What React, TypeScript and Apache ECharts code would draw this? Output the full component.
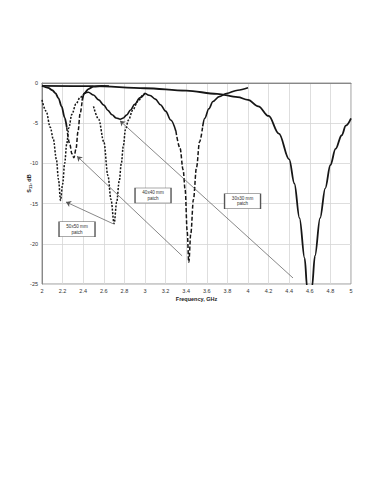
import React, { useEffect, useRef } from "react";
import * as echarts from "echarts";

// Solid curve: near-flat response with deep resonance at 4.6 GHz
const C6_F = [2.0, 2.5, 3.0, 3.4, 3.7, 3.9, 4.0, 4.1, 4.2, 4.3, 4.4, 4.45, 4.5, 4.55, 4.575, 4.597, 4.62, 4.65, 4.7, 4.75, 4.8, 4.85, 4.91, 4.95, 5.0];
const C6_D = [-0.35, -0.4, -0.65, -0.95, -1.35, -1.75, -2.1, -2.9, -4.1, -6.3, -9.5, -12.5, -16.8, -21.8, -25.5, -32, -25.5, -21.5, -16.8, -13.1, -10.2, -8.2, -6.5, -5.3, -4.4];

// Dashed-dip curve near 2.31 GHz (upper parts solid)
const C2A_F = [2.0, 2.06, 2.1, 2.13, 2.16, 2.19, 2.22, 2.24];
const C2A_D = [-0.35, -0.6, -0.9, -1.25, -1.9, -2.9, -4.3, -5.5];
const C2B_F = [2.24, 2.27, 2.29, 2.31, 2.33, 2.35, 2.37, 2.39];
const C2B_D = [-5.5, -7.6, -8.8, -9.3, -8.2, -6.0, -3.8, -2.2];
const C2C_F = [2.39, 2.41, 2.45, 2.5, 2.58, 2.65];
const C2C_D = [-2.2, -1.3, -0.75, -0.45, -0.36, -0.38];

// Dotted curve with dip at 2.18 GHz
const C1_F = [2.0, 2.04, 2.08, 2.11, 2.14, 2.16, 2.18, 2.2, 2.22, 2.24, 2.26, 2.29, 2.33, 2.37, 2.41];
const C1_D = [-2.1, -3.5, -5.5, -7.0, -9.5, -12.0, -14.6, -12.6, -10.0, -7.6, -5.6, -3.9, -2.6, -1.8, -1.3];

// Solid shallow resonance near 2.76 GHz
const C5_F = [2.41, 2.45, 2.5, 2.55, 2.6, 2.64, 2.68, 2.72, 2.76, 2.79, 2.82, 2.86, 2.9, 2.95, 3.0];
const C5_D = [-1.3, -1.15, -1.5, -2.1, -2.75, -3.4, -3.95, -4.35, -4.5, -4.35, -4.0, -3.35, -2.65, -1.85, -1.25];

// Dotted curve with dip at 2.70 GHz
const C3_F = [2.5, 2.55, 2.6, 2.64, 2.67, 2.7, 2.725, 2.75, 2.77, 2.79, 2.81, 2.84, 2.88, 2.93, 2.98, 3.0];
const C3_D = [-2.9, -4.5, -7.3, -11.5, -14.5, -17.5, -14.8, -12.2, -10.0, -7.8, -5.8, -4.6, -3.4, -2.3, -1.5, -1.3];

// Dashed-dip curve near 3.43 GHz (upper parts solid)
const C4A_F = [3.0, 3.05, 3.1, 3.15, 3.2, 3.25, 3.3];
const C4A_D = [-1.25, -1.55, -2.0, -2.7, -3.5, -4.6, -6.0];
const C4B_F = [3.3, 3.34, 3.37, 3.39, 3.41, 3.425, 3.445, 3.47, 3.5, 3.53, 3.56];
const C4B_D = [-6.0, -8.1, -10.8, -13.3, -18.5, -22.3, -18.7, -14.5, -10.5, -7.3, -5.4];
const C4C_F = [3.56, 3.58, 3.62, 3.66, 3.72, 3.79, 3.9, 4.0];
const C4C_D = [-5.4, -4.4, -3.2, -2.3, -1.7, -1.3, -0.9, -0.6];

// Annotation arrows (from, to) in data coordinates
const ARROW_FROM = [[2.689, -17.5], [3.36, -21.5], [4.437, -24.25]];
const ARROW_TO = [[2.233, -14.8], [2.34, -9.1], [2.757, -4.7]];

// Annotation boxes
const BOX_TEXT = ["50x50 mm\npatch", "40x40 mm\npatch", "30x30 mm\npatch"];
const BOX_AT = [[2.34, -18.2], [3.078, -14.0], [3.947, -14.7]];

const FONT = "Liberation Sans, Arial, sans-serif";

export default function App() {
  const ref = useRef<HTMLDivElement>(null);
  useEffect(() => {
    const chart = echarts.init(ref.current!, null, { renderer: "svg" });
    const zip = (f: number[], d: number[]) => f.map((v, i) => [v, d[i]]);
    const curve = (f: number[], d: number[], width: number, type: any) => ({
      type: "line",
      data: zip(f, d),
      showSymbol: false,
      symbol: "none",
      smooth: 0.35,
      smoothMonotone: "x",
      clip: true,
      silent: true,
      z: 3,
      lineStyle: { color: "#161616", width, type },
    });
    const DOT = [2, 1.5];
    const DASH = [4, 2];
    const c6: any = curve(C6_F, C6_D, 1.8, "solid");
    c6.markLine = {
      silent: true,
      symbol: ["none", "arrow"],
      symbolSize: 5,
      label: { show: false },
      lineStyle: { color: "#555", width: 0.7, type: "solid" },
      data: ARROW_FROM.map((a, i) => [{ coord: a }, { coord: ARROW_TO[i] }]),
    };
    c6.markPoint = {
      silent: true,
      symbol: "rect",
      symbolSize: [36, 15],
      itemStyle: { color: "#fff", borderColor: "#555", borderWidth: 0.9 },
      label: {
        show: true,
        position: "inside",
        fontSize: 4.6,
        lineHeight: 5.5,
        color: "#333",
        fontFamily: FONT,
        formatter: (p: any) => BOX_TEXT[p.dataIndex],
      },
      data: BOX_AT.map((c) => ({ coord: c })),
    };
    chart.setOption({
      animation: false,
      backgroundColor: "#fff",
      grid: { left: 42, right: 23, top: 83, bottom: 200, show: true, borderColor: "#999", borderWidth: 1 },
      xAxis: {
        type: "value",
        min: 2,
        max: 5,
        interval: 0.2,
        name: "Frequency, GHz",
        nameLocation: "middle",
        nameGap: 12,
        nameTextStyle: { fontSize: 5.5, fontWeight: "bold", color: "#222", fontFamily: FONT },
        axisLine: { show: true, lineStyle: { color: "#888", width: 1 } },
        axisTick: { show: false },
        axisLabel: {
          fontSize: 5.5,
          color: "#333",
          margin: 4,
          fontFamily: FONT,
          formatter: (v: number) => String(Math.round(v * 10) / 10),
        },
        splitLine: { show: true, lineStyle: { color: "#d6d6d6", width: 0.8 } },
      },
      yAxis: {
        type: "value",
        min: -25,
        max: 0,
        interval: 5,
        name: "{a|S}{b|11}{a|, dB}",
        nameLocation: "middle",
        nameGap: 10,
        nameMoveOverlap: false,
        nameRotate: 90,
        nameTextStyle: {
          color: "#222",
          fontFamily: FONT,
          rich: {
            a: { fontSize: 5.5, fontWeight: "bold", color: "#222", fontFamily: FONT },
            b: { fontSize: 4, fontWeight: "bold", color: "#222", fontFamily: FONT, padding: [3, 0, 0, 0] },
          },
        },
        axisLine: { show: true, lineStyle: { color: "#888", width: 1 } },
        axisTick: { show: false },
        axisLabel: { fontSize: 5.5, color: "#333", margin: 4, fontFamily: FONT },
        splitLine: { show: true, lineStyle: { color: "#d6d6d6", width: 0.8 } },
      },
      series: [
        c6,
        curve(C2A_F, C2A_D, 1.8, "solid"),
        curve(C2B_F, C2B_D, 1.5, DASH),
        curve(C2C_F, C2C_D, 1.8, "solid"),
        curve(C1_F, C1_D, 1.5, DOT),
        curve(C5_F, C5_D, 1.6, "solid"),
        curve(C3_F, C3_D, 1.5, DOT),
        curve(C4A_F, C4A_D, 1.6, "solid"),
        curve(C4B_F, C4B_D, 1.5, DASH),
        curve(C4C_F, C4C_D, 1.6, "solid"),
      ],
    });
    return () => chart.dispose();
  }, []);
  return (
    <div
      ref={ref}
      style={{ position: "fixed", left: 0, top: 0, width: 374, height: 484, background: "#fff" }}
    />
  );
}
